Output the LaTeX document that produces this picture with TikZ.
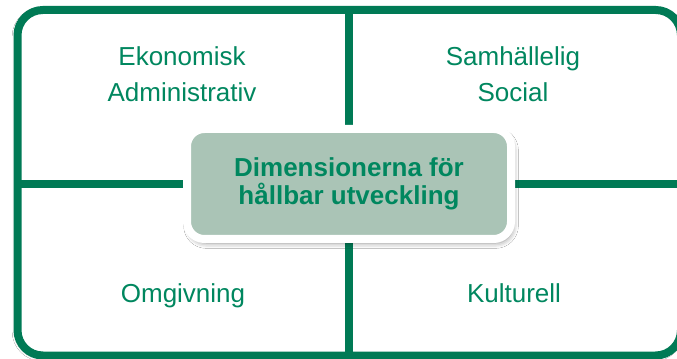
\documentclass[tikz,border=0pt]{standalone}
\usepackage{fontspec}
\setmainfont{Liberation Sans}
\usetikzlibrary{shadows.blur}
\begin{document}
\begin{tikzpicture}[x=0.75pt,y=-0.75pt,
  quadtext/.style={text=leafgreen,font=\fontsize{19.5}{27}\selectfont,align=center,inner sep=0},
  divider/.style={draw=framegreen,line width=6pt}]
\definecolor{framegreen}{HTML}{007A55}
\definecolor{leafgreen}{HTML}{00875F}
\definecolor{sage}{HTML}{AAC4B6}
\useasboundingbox (0,0) rectangle (677,359);
\clip (0,0) rectangle (677,359);
\fill[white] (0,0) rectangle (677,359);
\draw[divider,fill=white,rounded corners=19pt,
  blur shadow={shadow xshift=-1pt,shadow yshift=-1pt,shadow opacity=25,shadow blur radius=3pt}]
  (17.5,10) rectangle (681,355.5);
\coordinate (top) at (349,10);
\coordinate (bottom) at (349,355.5);
\coordinate (left) at (17.5,184);
\coordinate (right) at (681,184);
\draw[divider] (top) -- (bottom);
\draw[divider] (left) -- (right);
  \node [quadtext] (ekonomi) at (182,74) {Ekonomisk\\Administrativ};
  \node [quadtext] (samhalle) at (513,74) {Samhällelig\\Social};
  \node [quadtext,anchor=base] (omgivning) at (183,302) {Omgivning};
  \node [quadtext,anchor=base] (kultur) at (514,302) {Kulturell};
\node [fill=sage,draw=white,line width=6pt,rounded corners=13pt,
  minimum width=243pt,minimum height=82.5pt,text=leafgreen,
  font=\bfseries\fontsize{19.5}{20.5}\selectfont,align=center,
  blur shadow={shadow xshift=1.5pt,shadow yshift=-3pt,shadow opacity=45,shadow blur radius=4pt}]
  (dim) at (349,184) {Dimensionerna för\\hållbar utveckling};
\end{tikzpicture}
\end{document}
